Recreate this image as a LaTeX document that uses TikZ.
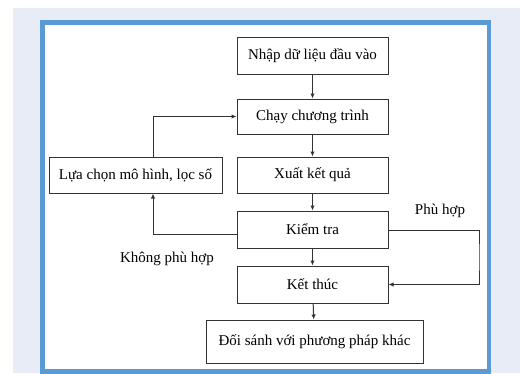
\documentclass[tikz,border=0pt]{standalone}
\usepackage{fontspec}
\setmainfont{Liberation Serif}
\usetikzlibrary{arrows.meta,positioning}
\definecolor{pagebg}{HTML}{E8ECF6}
\definecolor{frameblue}{HTML}{5B9BD5}
\definecolor{boxline}{HTML}{333333}

\begin{document}
\begin{tikzpicture}[x=1pt,y=-1pt,
    box/.style={draw=boxline,line width=1pt,minimum height=37pt,
      inner sep=0pt,font=\fontsize{15}{18}\selectfont},
    flow/.style={-{Latex[length=5pt,width=4.5pt]},boxline,line width=1pt},
    lbl/.style={font=\fontsize{15}{18}\selectfont}]
  \useasboundingbox (0,0) rectangle (520,373);
  % page and frame
  \fill[pagebg] (13,8) rectangle (520,373);
  \draw[frameblue,line width=4.5pt,fill=white] (42.5,22.5) rectangle (489,371.5);

  % main column
  \node[box,minimum width=151pt] (input) at (312.5,55.5) {Nhập dữ liệu đầu vào};
  \node[box,minimum width=151pt,minimum height=35pt] (run) at (312.5,116.5) {Chạy chương trình};
  \node[box,minimum width=151pt,minimum height=36pt] (output) at (312.5,175) {Xuất kết quả};
  \node[box,minimum width=151pt] (check) at (312.5,229.5) {Kiểm tra};
  \node[box,minimum width=151pt] (finish) at (312.5,284.5) {Kết thúc};
  \node[box,minimum width=217pt,minimum height=43pt] (compare) at (314.5,341.5) {Đối sánh với phương pháp khác};
  \node[box,minimum width=173pt,minimum height=36pt] (select) at (135.5,175) {Lựa chọn mô hình, lọc số};

  % labels
  \node[lbl] (fitlbl) at (440,211) {Phù hợp};
  \node[lbl] (nofitlbl) at (167,259) {Không phù hợp};

  % connectors
  \draw[flow] (input) -- (run);
  \draw[flow] (run) -- (output);
  \draw[flow] (output) -- (check);
  \draw[flow] (check) -- (finish);
  \draw[flow] (finish) -- (compare);
  \draw[flow] (check.west |- 0,234) -| (select.south -| 153,0);
  \draw[flow] (select.north -| 153,0) |- (run.west);
  \draw[flow] (check.east |- 0,230) -| (479,257) |- (finish.east);
\end{tikzpicture}
\end{document}
